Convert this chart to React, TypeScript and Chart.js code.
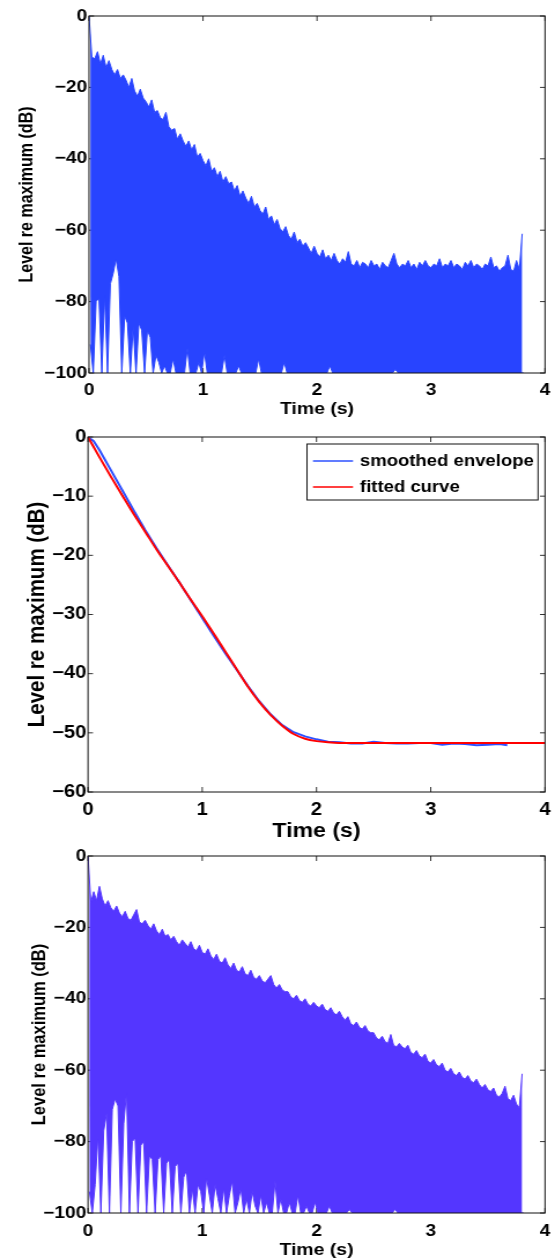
import React, { useEffect, useRef } from 'react';
import { Chart, registerables } from 'chart.js';

Chart.register(...registerables);

// ---------------- data ----------------
// Readings of the noisy decays: one local peak and one local trough every 0.025 s.
const SAMPLE_STEP = 0.025;

const TIME_TICKS = [0, 1, 2, 3, 4];
const TIME_TICK_LABELS = ['0', '1', '2', '3', '4'];
const LEVEL_TICKS_WIDE = [0, -20, -40, -60, -80, -100];
const LEVEL_TICK_LABELS_WIDE = ['0', '\u221220', '\u221240', '\u221260', '\u221280', '\u2212100'];
const LEVEL_TICKS_NARROW = [0, -10, -20, -30, -40, -50, -60];
const LEVEL_TICK_LABELS_NARROW = ['0', '\u221210', '\u221220', '\u221230', '\u221240', '\u221250', '\u221260'];

const X_TITLE = 'Time (s)';
const Y_TITLE = 'Level re maximum (dB)';
const SERIES_LABELS = ['smoothed envelope', 'fitted curve'];

// top panel: measured impulse response (local peaks / troughs)
const RAW_PEAKS = [
  0, -11.5, -12, -10, -13.5, -11, -14.5, -12.5, -15, -16.5,
  -15, -17.5, -16.5, -18, -20, -17.5, -21, -22.5, -20.5, -23,
  -24, -25.5, -23.5, -27, -26.5, -28.5, -29, -27, -31, -32,
  -31.5, -34.5, -33, -35, -36.5, -35, -37.5, -36, -39.5, -38.5,
  -40.5, -42, -40, -43.5, -42.5, -45, -43.5, -46.5, -45, -47,
  -46.5, -49, -47.5, -50.5, -49, -51, -52.5, -50.5, -53.5, -52.5,
  -54.5, -55.5, -53.5, -57, -56, -58.5, -57, -59.5, -60.5, -59,
  -61.5, -62.5, -60.5, -63.5, -62.5, -64.5, -63.5, -65, -66.5, -64.5,
  -66.5, -67.5, -65.5, -68, -67, -68.5, -66.5, -68.5, -69.5, -68,
  -69, -66, -69.5, -70, -68.5, -70.5, -69, -69.5, -70.5, -68.5,
  -70, -69.5, -71, -69, -70, -70.5, -68.5, -66.5, -69.5, -70.5,
  -69.5, -70, -68.5, -70.5, -69.5, -71, -69, -70, -68.5, -70,
  -70.5, -69.5, -70, -68, -70.5, -69.5, -70, -68.5, -70.5, -69.5,
  -70, -71, -69, -70, -68.5, -70.5, -69.5, -70, -71, -69.5,
  -70, -67.5, -70.5, -70, -71.5, -70.5, -70, -67, -71, -71.5,
  -68.5, -71, -61,
];
const RAW_TROUGHS = [
  -92, -100, -80, -79, -100, -78, -100, -75, -72, -68,
  -73, -100, -84, -86, -100, -87, -100, -86, -88, -100,
  -88, -90, -100, -95, -97, -100, -98, -100, -100, -96,
  -100, -100, -100, -100, -93, -100, -100, -100, -97, -100,
  -94, -100, -100, -100, -100, -100, -100, -95, -100, -100,
  -100, -100, -98, -100, -100, -100, -100, -100, -100, -96,
  -100, -100, -100, -100, -100, -100, -100, -100, -97, -100,
  -100, -100, -100, -100, -100, -100, -100, -100, -100, -100,
  -100, -100, -100, -100, -98, -100, -100, -100, -100, -100,
  -100, -100, -100, -100, -100, -100, -100, -100, -100, -100,
  -100, -100, -100, -100, -100, -100, -100, -99, -100, -100,
  -100, -100, -100, -100, -100, -100, -100, -100, -100, -100,
  -100, -100, -100, -100, -100, -100, -100, -100, -100, -100,
  -100, -100, -100, -100, -100, -100, -100, -100, -100, -100,
  -100, -100, -100, -100, -100, -100, -100, -100, -100, -100,
  -100, -100, -100,
];

// middle panel: smoothed envelope and fitted curve
const ENV_TIMES = [
  0, 0.05, 0.1, 0.2, 0.3, 0.4, 0.5, 0.6, 0.7, 0.8, 0.9, 1.0, 1.1, 1.2, 1.3, 1.4, 1.5, 1.6, 1.7,
  1.8, 1.9, 2.0, 2.1, 2.2, 2.3, 2.4, 2.5, 2.6, 2.7, 2.8, 2.9, 3.0, 3.1, 3.2, 3.3, 3.4, 3.5, 3.6, 3.67,
];
const ENV_LEVELS = [
  0, -0.7, -2.2, -5.6, -9.0, -12.4, -15.7, -18.8, -21.7, -24.6, -27.6, -30.6, -33.6, -36.5, -39.3,
  -42.1, -44.7, -46.9, -48.7, -49.9, -50.6, -51.1, -51.5, -51.6, -51.8, -51.8, -51.5, -51.7, -51.8,
  -51.8, -51.7, -51.7, -52.0, -51.8, -51.9, -52.1, -52.0, -51.9, -52.1,
];
const FIT_TIMES = [
  0, 0.1, 0.2, 0.3, 0.4, 0.5, 0.6, 0.7, 0.8, 0.9, 1.0, 1.1, 1.2, 1.3, 1.4, 1.5, 1.6, 1.7, 1.8, 1.9,
  2.0, 2.1, 2.2, 2.3, 2.4, 2.5, 2.6, 2.7, 2.8, 2.9, 3.0, 3.1, 3.2, 3.3, 3.4, 3.5, 3.6, 3.7, 3.8, 3.9, 4.0,
];
const FIT_LEVELS = [
  0, -3.4, -6.7, -9.9, -13.0, -16.0, -19.0, -21.8, -24.6, -27.5, -30.3, -33.2, -36.2, -39.2, -42.2,
  -44.8, -47.0, -48.8, -50.2, -51.0, -51.4, -51.6, -51.7, -51.7, -51.7, -51.7, -51.7, -51.7, -51.7,
  -51.7, -51.7, -51.7, -51.7, -51.7, -51.7, -51.7, -51.7, -51.7, -51.7, -51.7, -51.7,
];

// bottom panel: shaped response (local peaks / troughs)
const SHAPED_PEAKS = [
  0, -13, -10, -12.5, -8.5, -12, -14, -12.5, -14.5, -15.5,
  -14, -16, -17, -15.5, -17.5, -18, -16.5, -15, -18.5, -19,
  -18, -19.5, -20.5, -19, -21, -22, -20.5, -22.5, -22, -23.5,
  -22.5, -24, -25, -23.5, -24.5, -25.5, -24, -26, -26.5, -25,
  -27, -27.5, -26, -28, -29, -27.5, -29.5, -30, -28.5, -30.5,
  -31.5, -30, -32, -32.5, -31, -33, -33.5, -32, -34, -34.5,
  -33.5, -35, -35.5, -34.5, -33.5, -36, -37, -36, -37.5, -38,
  -38, -39.5, -40, -39, -40.5, -41, -40, -41.5, -42, -41,
  -42, -42.5, -41.5, -43, -43.5, -42.5, -44, -44.5, -43.5, -45,
  -46, -45, -47, -47.5, -46.5, -48, -48.5, -47.5, -49, -49.5,
  -49.5, -51, -51.5, -50.5, -52, -52.5, -50, -53, -53.5, -52.5,
  -53.5, -54, -53, -55, -55.5, -54.5, -56, -56.5, -55.5, -57.5,
  -58, -57, -58.5, -59, -58, -60, -60.5, -59.5, -61, -61.5,
  -60.5, -62, -62.5, -61.5, -63, -63.5, -62.5, -64, -65, -64,
  -65.5, -66, -65, -67, -67.5, -66.5, -64.5, -68, -68.5, -67,
  -69.5, -70.5, -61,
];
const SHAPED_TROUGHS = [
  -94, -100, -92, -78, -100, -77, -72, -100, -71, -68,
  -70, -100, -75, -66, -100, -80, -79, -100, -81, -80,
  -100, -84, -85, -100, -85, -84, -100, -86, -85, -100,
  -87, -86, -100, -90, -88, -100, -93, -100, -92, -94,
  -100, -90, -95, -100, -92, -96, -100, -93, -100, -95,
  -91, -100, -97, -93, -100, -96, -100, -94, -98, -100,
  -95, -100, -97, -100, -100, -91, -100, -96, -100, -100,
  -97, -100, -100, -95, -100, -100, -98, -100, -100, -97,
  -100, -100, -100, -100, -98, -100, -100, -100, -100, -100,
  -100, -99, -100, -100, -100, -100, -100, -100, -100, -100,
  -100, -100, -100, -100, -100, -100, -100, -99, -100, -100,
  -100, -100, -100, -100, -100, -100, -100, -100, -100, -100,
  -100, -100, -100, -100, -100, -100, -100, -100, -100, -100,
  -100, -100, -100, -100, -100, -100, -100, -100, -100, -100,
  -100, -100, -100, -100, -100, -100, -100, -100, -100, -100,
  -100, -100, -100,
];

// ---------------- look ----------------
const PAGE_W = 555;
const CANVAS_W = 480; // drawn narrower, then stretched horizontally like the reference
const SX = PAGE_W / CANVAS_W;
const FONT = "'Liberation Sans', Arial, Helvetica, sans-serif";
const RAW_COLOR = 'rgb(40, 68, 255)';
const SHAPED_COLOR = 'rgb(84, 54, 255)';
const ENV_COLOR = 'rgb(45, 80, 255)';
const FIT_COLOR = 'rgb(255, 0, 0)';
const AXIS_COLOR = '#111';

type PanelSpec = {
  top: number; height: number; plotTop: number; plotBottom: number; plotLeft: number;
  tickFont: number; xLabelPad: number;
  yTitleFont: number; yTitleCenter: number;
  xTitleFont: number; xTitleCenter: number;
  yTicks: number[]; yLabels: string[]; yMin: number;
};

const PANEL_TOP: PanelSpec = {
  top: 0, height: 420, plotTop: 16, plotBottom: 373, plotLeft: 89,
  tickFont: 16.5, xLabelPad: 7.5, yTitleFont: 16, yTitleCenter: 27, xTitleFont: 16.8, xTitleCenter: 409,
  yTicks: LEVEL_TICKS_WIDE, yLabels: LEVEL_TICK_LABELS_WIDE, yMin: -100,
};
const PANEL_MID: PanelSpec = {
  top: 420, height: 425, plotTop: 437, plotBottom: 792, plotLeft: 88,
  tickFont: 17.5, xLabelPad: 8, yTitleFont: 20.5, yTitleCenter: 37, xTitleFont: 20, xTitleCenter: 831,
  yTicks: LEVEL_TICKS_NARROW, yLabels: LEVEL_TICK_LABELS_NARROW, yMin: -60,
};
const PANEL_BOT: PanelSpec = {
  top: 845, height: 414, plotTop: 856, plotBottom: 1213, plotLeft: 88,
  tickFont: 16.5, xLabelPad: 8.8, yTitleFont: 16.5, yTitleCenter: 40, xTitleFont: 16.8, xTitleCenter: 1250,
  yTicks: LEVEL_TICKS_WIDE, yLabels: LEVEL_TICK_LABELS_WIDE, yMin: -100,
};
const PLOT_RIGHT = 545;

// ---------------- plugins ----------------
const frameTicks = {
  id: 'frameTicks',
  beforeDatasetsDraw(chart: any) {
    const { ctx, chartArea: a, scales } = chart;
    const x = scales.x, y = scales.y;
    ctx.save();
    ctx.strokeStyle = '#333';
    ctx.lineWidth = 1;
    ctx.beginPath();
    const tl = 5, tlx = 5 / SX;
    x.ticks.forEach((t: any) => {
      const px = x.getPixelForValue(t.value);
      ctx.moveTo(px, a.bottom); ctx.lineTo(px, a.bottom - tl);
      ctx.moveTo(px, a.top); ctx.lineTo(px, a.top + tl);
    });
    y.ticks.forEach((t: any) => {
      const py = y.getPixelForValue(t.value);
      ctx.moveTo(a.left, py); ctx.lineTo(a.left + tlx, py);
      ctx.moveTo(a.right, py); ctx.lineTo(a.right - tlx, py);
    });
    ctx.stroke();
    ctx.restore();
  },
  afterDatasetsDraw(chart: any) {
    const { ctx, chartArea: a } = chart;
    ctx.save();
    ctx.strokeStyle = AXIS_COLOR;
    ctx.lineWidth = 1;
    ctx.strokeRect(a.left, a.top, a.right - a.left, a.bottom - a.top);
    ctx.restore();
  },
};

const insetLegend = {
  id: 'insetLegend',
  afterDraw(chart: any) {
    const { ctx, chartArea: a } = chart;
    const boxW = 231 / SX, boxH = 56;
    const left = a.right - 7 / SX - boxW;
    const top = a.top + 7;
    ctx.save();
    ctx.fillStyle = '#fff';
    ctx.fillRect(left, top, boxW, boxH);
    ctx.strokeStyle = AXIS_COLOR;
    ctx.lineWidth = 1;
    ctx.strokeRect(left, top, boxW, boxH);
    ctx.font = `bold 16px ${FONT}`;
    ctx.textBaseline = 'middle';
    ctx.textAlign = 'left';
    chart.data.datasets.forEach((ds: any, i: number) => {
      const rowY = top + 17 + i * 26;
      ctx.strokeStyle = ds.borderColor;
      ctx.lineWidth = 1.5;
      ctx.beginPath();
      ctx.moveTo(left + 6 / SX, rowY);
      ctx.lineTo(left + 46 / SX, rowY);
      ctx.stroke();
      ctx.fillStyle = '#000';
      ctx.fillText(ds.label, left + 53 / SX, rowY + 1);
    });
    ctx.restore();
  },
};

// ---------------- builders ----------------
function peakPoints(peaks: number[]) {
  return peaks.map((p, i) => ({ x: i * SAMPLE_STEP, y: p }));
}
function troughPoints(troughs: number[]) {
  return troughs.map((v, i) => ({ x: i * SAMPLE_STEP + SAMPLE_STEP / 2, y: v }));
}

function pairs(xs: number[], ys: number[]) {
  return xs.map((x, i) => ({ x, y: ys[i] }));
}

function makeOptions(p: PanelSpec) {
  const font = (size: number, lineHeight?: number) => ({ family: FONT, size, weight: 'bold' as const, lineHeight: lineHeight ?? 1.2 });
  return {
    responsive: false,
    animation: false,
    events: [],
    devicePixelRatio: 1,
    layout: {
      padding: { left: 0, top: p.plotTop - p.top, right: CANVAS_W - PLOT_RIGHT / SX, bottom: 0 },
    },
    plugins: { legend: { display: false }, tooltip: { enabled: false }, title: { display: false } },
    elements: { point: { radius: 0 } },
    scales: {
      x: {
        type: 'linear',
        min: 0,
        max: 4,
        afterBuildTicks: (s: any) => { s.ticks = TIME_TICKS.map((v) => ({ value: v })); },
        afterFit: (s: any) => {
          s.height = p.top + p.height - p.plotBottom;
          s.paddingLeft = 0; s.paddingRight = 0;
        },
        grid: { display: false, drawTicks: false },
        border: { display: false },
        ticks: {
          autoSkip: false, maxRotation: 0, minRotation: 0, padding: p.xLabelPad, color: '#000',
          font: font(p.tickFont),
          callback: (_v: any, i: number) => TIME_TICK_LABELS[i],
        },
        title: {
          display: true, text: X_TITLE, color: '#000', font: font(p.xTitleFont, 1),
          padding: { top: 0, bottom: p.top + p.height - p.xTitleCenter - p.xTitleFont / 2 },
        },
      },
      y: {
        type: 'linear',
        min: p.yMin,
        max: 0,
        afterBuildTicks: (s: any) => { s.ticks = p.yTicks.map((v) => ({ value: v })); },
        afterFit: (s: any) => {
          s.width = p.plotLeft / SX;
          s.paddingTop = 0; s.paddingBottom = 0;
        },
        grid: { display: false, drawTicks: false },
        border: { display: false },
        ticks: {
          autoSkip: false, padding: 1.5, color: '#000', font: font(p.tickFont),
          callback: (_v: any, i: number) => p.yLabels[i],
        },
        title: {
          display: true, text: Y_TITLE, color: '#000', font: font(p.yTitleFont, 1),
          padding: { top: p.yTitleCenter / SX - p.yTitleFont / 2, bottom: 0 },
        },
      },
    },
  };
}

// Upper edge (local peaks) filled down to the lower edge (local troughs).
function noiseDatasets(peaks: number[], troughs: number[], color: string) {
  return [
    {
      data: peakPoints(peaks),
      borderColor: color,
      backgroundColor: color,
      borderWidth: 1,
      borderJoinStyle: 'bevel',
      pointRadius: 0,
      tension: 0,
      fill: '+1',
    },
    {
      data: troughPoints(troughs),
      borderColor: color,
      backgroundColor: color,
      borderWidth: 1,
      borderJoinStyle: 'bevel',
      pointRadius: 0,
      tension: 0,
      fill: false,
    },
  ];
}

const buildTop = () => ({
  type: 'line',
  data: { datasets: noiseDatasets(RAW_PEAKS, RAW_TROUGHS, RAW_COLOR) },
  options: makeOptions(PANEL_TOP),
  plugins: [frameTicks],
});

const buildMid = () => ({
  type: 'line',
  data: {
    datasets: [
      {
        label: SERIES_LABELS[0], data: pairs(ENV_TIMES, ENV_LEVELS), borderColor: ENV_COLOR,
        borderWidth: 2, pointRadius: 0, tension: 0, fill: false, order: 1,
      },
      {
        label: SERIES_LABELS[1], data: pairs(FIT_TIMES, FIT_LEVELS), borderColor: FIT_COLOR,
        borderWidth: 2, pointRadius: 0, cubicInterpolationMode: 'monotone', fill: false, order: 0,
      },
    ],
  },
  options: makeOptions(PANEL_MID),
  plugins: [frameTicks, insetLegend],
});

const buildBot = () => ({
  type: 'line',
  data: { datasets: noiseDatasets(SHAPED_PEAKS, SHAPED_TROUGHS, SHAPED_COLOR) },
  options: makeOptions(PANEL_BOT),
  plugins: [frameTicks],
});

function ChartCanvas({ spec, build }: { spec: PanelSpec; build: () => any }) {
  const ref = useRef<HTMLCanvasElement | null>(null);
  useEffect(() => {
    if (!ref.current) return;
    const chart = new Chart(ref.current, build());
    return () => chart.destroy();
  }, [build]);
  return (
    <canvas
      ref={ref}
      width={CANVAS_W}
      height={spec.height}
      style={{ position: 'absolute', left: 0, top: spec.top, width: PAGE_W, height: spec.height, display: 'block' }}
    />
  );
}

export default function App() {
  return (
    <div style={{ position: 'absolute', left: 0, top: 0, width: PAGE_W, height: 1259, background: '#fff', overflow: 'hidden' }}>
      <ChartCanvas spec={PANEL_TOP} build={buildTop} />
      <ChartCanvas spec={PANEL_MID} build={buildMid} />
      <ChartCanvas spec={PANEL_BOT} build={buildBot} />
    </div>
  );
}
